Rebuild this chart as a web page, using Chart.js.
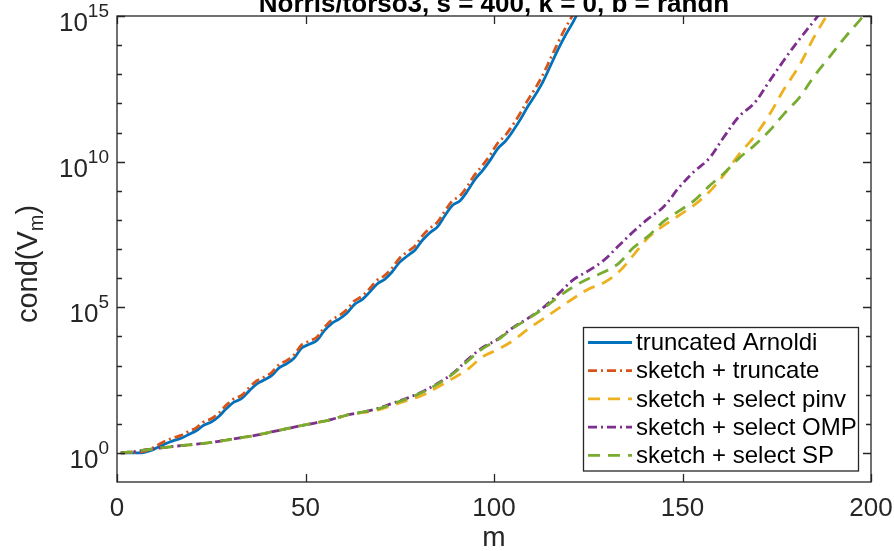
<!DOCTYPE html>
<html>
<head>
<meta charset="utf-8">
<script src="https://cdn.jsdelivr.net/npm/chart.js@4.4.0/dist/chart.umd.min.js"></script>
<style>
  html, body { margin: 0; padding: 0; background: #fff; }
  #wrap { width: 894px; height: 551px; }
</style>
</head>
<body>
<div id="wrap"><canvas id="condChart" width="894" height="551"></canvas></div>
<script>
// m values for the two groups of curves
const mTrunc = [1,3,5,7,9,11,13,15,17,19,21,23,25,27,29,31,33,35,37,39,41,43,45,47,49,51,53,55,57,59,61,63,65,67,69,71,73,75,77,79,81,83,85,87,89,91,93,95,97,99,101,103,105,107,109,111,113,115,117,119,121,123,125];
const mSelect = [1,5,9,13,17,21,25,29,33,37,41,45,49,53,57,61,65,69,73,77,81,85,89,93,97,101,105,109,113,117,121,125,129,133,137,141,145,149,153,157,161,165,169,173,177,181,185,189,193,197,200];

// log10(cond(V_m))
const truncArnoldi = [0,0,0,0.01,0.08,0.2,0.32,0.42,0.5,0.63,0.76,0.95,1.06,1.25,1.52,1.74,1.86,2.12,2.36,2.5,2.65,2.92,3.06,3.26,3.6,3.73,3.86,4.2,4.45,4.6,4.8,5.1,5.26,5.52,5.8,5.96,6.22,6.55,6.76,6.96,7.3,7.56,7.76,8.15,8.5,8.66,9.0,9.4,9.7,10.05,10.45,10.7,11.05,11.45,11.9,12.3,12.75,13.3,13.85,14.35,14.8,15.3,15.7];
const sketchTruncate = [0,0.01,0.02,0.05,0.14,0.28,0.42,0.52,0.6,0.74,0.86,1.06,1.17,1.36,1.64,1.86,1.97,2.23,2.47,2.6,2.76,3.03,3.17,3.37,3.71,3.84,3.97,4.31,4.57,4.72,4.92,5.22,5.38,5.64,5.93,6.09,6.35,6.69,6.9,7.1,7.45,7.71,7.92,8.31,8.66,8.83,9.17,9.57,9.88,10.23,10.64,10.9,11.26,11.67,12.12,12.53,12.99,13.54,14.09,14.6,15.06,15.56,15.96];
const selectPinv = [0,0.05,0.13,0.19,0.25,0.3,0.36,0.44,0.52,0.61,0.72,0.83,0.94,1.04,1.15,1.3,1.38,1.47,1.63,1.8,1.98,2.25,2.55,2.87,3.3,3.55,3.85,4.25,4.6,4.95,5.3,5.62,5.83,6.2,6.79,7.4,7.8,8.15,8.5,8.95,9.55,10.25,10.85,11.6,12.5,13.3,14.3,15.15,15.9,16.6,17.1];
const selectOmp = [0,0.05,0.13,0.19,0.25,0.3,0.36,0.44,0.52,0.61,0.72,0.83,0.94,1.04,1.15,1.3,1.4,1.52,1.7,1.88,2.1,2.38,2.72,3.2,3.62,3.9,4.3,4.62,4.98,5.45,5.94,6.25,6.6,7.1,7.6,8.05,8.45,9.1,9.65,10.1,10.85,11.55,12.0,12.75,13.5,14.2,14.85,15.5,16.1,16.7,17.1];
const selectSp = [0,0.05,0.13,0.19,0.25,0.3,0.36,0.44,0.52,0.61,0.72,0.83,0.94,1.04,1.15,1.3,1.4,1.5,1.68,1.86,2.08,2.36,2.7,3.15,3.58,3.88,4.28,4.6,4.95,5.35,5.7,5.98,6.2,6.5,7.05,7.45,7.95,8.3,8.65,9.15,9.6,10.12,10.55,11.05,11.65,12.2,12.95,13.6,14.25,14.85,15.3];

const seriesNames = ['truncated Arnoldi', 'sketch + truncate', 'sketch + select pinv', 'sketch + select OMP', 'sketch + select SP'];
const xTicks = [0, 50, 100, 150, 200];
const yTickExp = [0, 5, 10, 15];
const yMinorExp = [1, 2, 3, 4, 6, 7, 8, 9, 11, 12, 13, 14];
const titleText = 'Norris/torso3, s = 400, k = 0, b = randn';

const AXIS_COLOR = '#262626';
const FONT = '"Liberation Sans", Arial, Helvetica, sans-serif';

function toPoints(ms, logs) {
    return ms.map((m, i) => ({ x: m, y: Math.pow(10, logs[i]) }));
}

const styles = [
    { color: '#0072BD', dash: [] },
    { color: '#D95319', dash: [9, 4, 2, 4] },
    { color: '#EDB120', dash: [12, 8] },
    { color: '#7E2F8E', dash: [9, 4, 2, 4] },
    { color: '#77AC30', dash: [12, 8] }
];

const dataSets = [
    toPoints(mTrunc, truncArnoldi),
    toPoints(mTrunc, sketchTruncate),
    toPoints(mSelect, selectPinv),
    toPoints(mSelect, selectOmp),
    toPoints(mSelect, selectSp)
];

// axes box, inward ticks, tick labels, title, axis labels, legend
const matlabAxes = {
    id: 'matlabAxes',
    afterDraw(chart) {
        const { ctx, chartArea: a, scales: { x, y } } = chart;
        ctx.save();

        ctx.strokeStyle = AXIS_COLOR;
        ctx.lineWidth = 1.3;
        ctx.beginPath();
        xTicks.forEach(v => {
            const px = Math.round(x.getPixelForValue(v)) + 0.5;
            ctx.moveTo(px, a.bottom); ctx.lineTo(px, a.bottom - 8);
            ctx.moveTo(px, a.top); ctx.lineTo(px, a.top + 8);
        });
        yTickExp.concat(yMinorExp).forEach(e => {
            const py = Math.round(y.getPixelForValue(Math.pow(10, e))) + 0.5;
            const len = yTickExp.includes(e) ? 8 : 5;
            ctx.moveTo(a.left, py); ctx.lineTo(a.left + len, py);
            ctx.moveTo(a.right, py); ctx.lineTo(a.right - len, py);
        });
        ctx.stroke();
        ctx.strokeRect(a.left, a.top, a.right - a.left, a.bottom - a.top);

        // tick labels
        ctx.fillStyle = AXIS_COLOR;
        ctx.textBaseline = 'alphabetic';
        ctx.font = '26px ' + FONT;
        ctx.textAlign = 'center';
        xTicks.forEach(v => ctx.fillText(String(v), x.getPixelForValue(v), 516));

        ctx.textAlign = 'left';
        yTickExp.forEach(e => {
            const py = y.getPixelForValue(Math.pow(10, e));
            ctx.font = '19px ' + FONT;
            const wSup = ctx.measureText(String(e)).width;
            ctx.font = '26px ' + FONT;
            const wBase = ctx.measureText('10').width;
            const right = a.left - 8;
            ctx.fillText('10', right - wSup - wBase, py + 15);
            ctx.font = '19px ' + FONT;
            ctx.fillText(String(e), right - wSup, py + 1);
        });

        // x label
        ctx.font = '28px ' + FONT;
        ctx.textAlign = 'center';
        ctx.fillText('m', (a.left + a.right) / 2, 546);

        // y label cond(V_m)
        ctx.save();
        ctx.translate(37, 264);
        ctx.rotate(-Math.PI / 2);
        ctx.textAlign = 'left';
        ctx.font = '29px ' + FONT;
        const w1 = ctx.measureText('cond(V').width;
        const w3 = ctx.measureText(')').width;
        ctx.font = '20px ' + FONT;
        const w2 = ctx.measureText('m').width;
        let sx = -(w1 + w2 + w3) / 2;
        ctx.font = '29px ' + FONT;
        ctx.fillText('cond(V', sx, 0);
        ctx.font = '20px ' + FONT;
        ctx.fillText('m', sx + w1, 6);
        ctx.font = '29px ' + FONT;
        ctx.fillText(')', sx + w1 + w2, 0);
        ctx.restore();

        // title, top part cut off by the canvas edge
        ctx.fillStyle = '#000';
        ctx.font = 'bold 26px ' + FONT;
        ctx.textAlign = 'center';
        ctx.fillText(titleText, (a.left + a.right) / 2, 12);

        // legend
        const box = { left: 583.5, top: 327.5, right: 858.5, bottom: 471 };
        ctx.fillStyle = '#fff';
        ctx.fillRect(box.left, box.top, box.right - box.left, box.bottom - box.top);
        ctx.strokeStyle = AXIS_COLOR;
        ctx.lineWidth = 1.3;
        ctx.setLineDash([]);
        ctx.strokeRect(box.left, box.top, box.right - box.left, box.bottom - box.top);
        ctx.font = '24px ' + FONT;
        ctx.textBaseline = 'middle';
        ctx.textAlign = 'left';
        seriesNames.forEach((name, i) => {
            const ly = 342.5 + i * 28.2;
            ctx.strokeStyle = styles[i].color;
            ctx.lineWidth = 2.8;
            ctx.setLineDash(styles[i].dash);
            ctx.beginPath();
            ctx.moveTo(588, ly); ctx.lineTo(632, ly);
            ctx.stroke();
            ctx.setLineDash([]);
            ctx.fillStyle = '#000';
            ctx.fillText(name, 636, ly + 1);
        });

        ctx.restore();
    }
};

const datasets = dataSets.map((pts, i) => ({
    label: seriesNames[i],
    data: pts,
    borderColor: styles[i].color,
    borderDash: styles[i].dash,
    borderWidth: 2.8,
    pointRadius: 0,
    tension: 0.35,
    fill: false,
    order: 5 - i
}));

new Chart(document.getElementById('condChart').getContext('2d'), {
    type: 'line',
    data: { datasets: datasets },
    options: {
        responsive: false,
        animation: false,
        events: [],
        layout: { padding: { top: 16, right: 23, left: 0, bottom: 0 } },
        plugins: {
            legend: { display: false },
            tooltip: { enabled: false },
            title: { display: false }
        },
        scales: {
            x: {
                type: 'linear',
                min: 0,
                max: 200,
                grid: { display: false },
                border: { display: false },
                ticks: { display: false },
                afterFit(scale) { scale.height = 69; }
            },
            y: {
                type: 'logarithmic',
                min: 0.1,
                max: 1e15,
                grid: { display: false },
                border: { display: false },
                ticks: { display: false },
                afterFit(scale) { scale.width = 117; }
            }
        }
    },
    plugins: [matlabAxes]
});
</script>
</body>
</html>
